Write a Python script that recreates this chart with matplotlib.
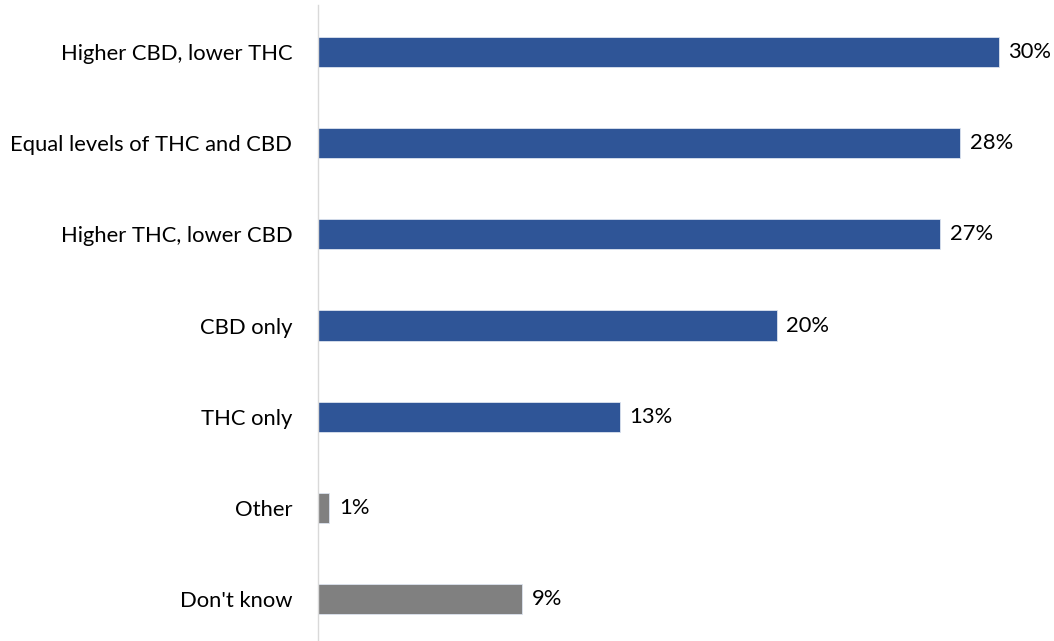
import matplotlib
matplotlib.use("Agg")
import matplotlib.pyplot as plt

# Data
categories = ["Higher CBD, lower THC", "Equal levels of THC and CBD", "Higher THC, lower CBD",
              "CBD only", "THC only", "Other", "Don't know"]
values = [30.0, 28.3, 27.4, 20.2, 13.3, 0.5, 9.0]
value_labels = ["30%", "28%", "27%", "20%", "13%", "1%", "9%"]
colors = ["#2F5597"] * 5 + ["#808080"] * 2

plt.rcParams["font.family"] = ["Lato", "DejaVu Sans"]

fig = plt.figure(figsize=(10.54, 6.41), dpi=100)
ax = fig.add_axes([318 / 1054, 0.0, 1 - 318 / 1054, 1 - 5 / 641])

y = list(range(len(categories)))
ax.barh(y, values, height=0.33, color=colors, edgecolor="#dce3ef", linewidth=0.6)

for yi, v, lab in zip(y, values, value_labels):
    ax.text(v + 0.42, yi, lab, va="center", ha="left", fontsize=15.8, color="#000000")

ax.set_xlim(0, (1054 - 318) / 22.7)
ax.set_ylim(6.46, -0.515)
ax.set_yticks(y)
ax.set_yticklabels(categories, fontsize=15.8)
ax.tick_params(axis="y", length=0, pad=18.5)
ax.set_xticks([])

for s in ["top", "right", "bottom"]:
    ax.spines[s].set_visible(False)
ax.spines["left"].set_color("#d9d9d9")
ax.spines["left"].set_linewidth(1)

fig.savefig("out.png", dpi=100)
